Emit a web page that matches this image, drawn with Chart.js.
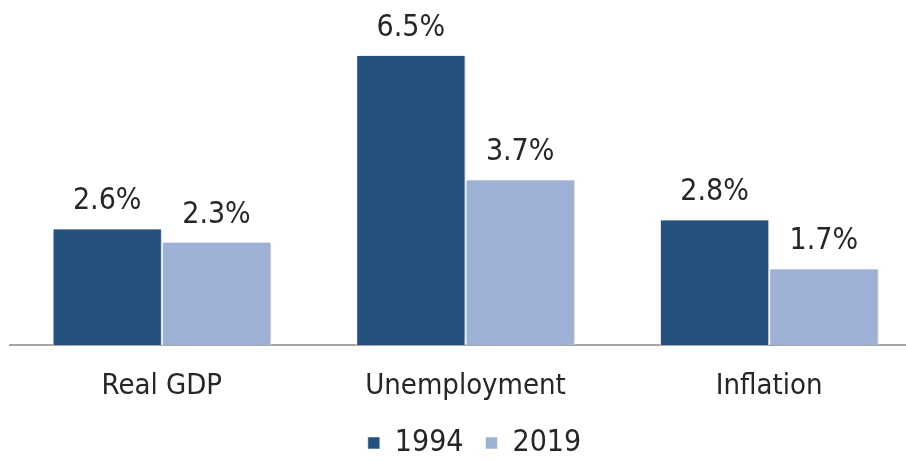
<!DOCTYPE html>
<html>
<head>
<meta charset="utf-8">
<script src="https://cdn.jsdelivr.net/npm/chart.js@4"></script>
<style>
  html, body { margin: 0; padding: 0; background: #fff; overflow: hidden; }
  #wrap { width: 906px; height: 462px; overflow: hidden; }
</style>
</head>
<body>
<div id="wrap"><canvas id="myChart" width="921" height="468"></canvas></div>
<script>
const categories = ["Real GDP", "Unemployment", "Inflation"];
const series1994 = [2.6, 6.5, 2.8];
const series2019 = [2.3, 3.7, 1.7];
const seriesNames = ["1994", "2019"];

const textColor = "#262626";
const fontFamily = "'DejaVu Sans Condensed', 'DejaVu Sans'";

// value labels above each bar
const barLabels = {
  id: "barLabels",
  afterDatasetsDraw(chart) {
    const ctx = chart.ctx;
    ctx.save();
    ctx.shadowColor = "transparent";
    ctx.font = "30px " + fontFamily;
    ctx.fillStyle = textColor;
    ctx.textAlign = "center";
    ctx.textBaseline = "alphabetic";
    chart.data.datasets.forEach((ds, i) => {
      chart.getDatasetMeta(i).data.forEach((bar, j) => {
        ctx.fillText(ds.data[j].toFixed(1) + "%", bar.x, bar.y - 20);
      });
    });
    ctx.restore();
  },
};

// soft shadow on the bars
const barShadow = {
  id: "barShadow",
  beforeDatasetsDraw(chart) {
    const ctx = chart.ctx;
    ctx.save();
    ctx.shadowColor = "rgba(0, 0, 0, 0.2)";
    ctx.shadowBlur = 4;
    ctx.shadowOffsetX = 3;
    ctx.shadowOffsetY = -1;
  },
  afterDatasetsDraw(chart) {
    chart.ctx.restore();
  },
};

// nudge the legend a little to the right, like the original
const legendShift = {
  id: "legendShift",
  afterLayout(chart) {
    chart.legend.left += 9;
    chart.legend.right += 9;
  },
};

const ctx = document.getElementById("myChart").getContext("2d");
new Chart(ctx, {
  type: "bar",
  data: {
    labels: categories,
    datasets: [
      {
        label: seriesNames[0],
        data: series1994,
        backgroundColor: "#25517F",
        borderColor: "#ffffff",
        borderWidth: { left: 1, right: 1, top: 0, bottom: 0 },
        borderSkipped: false,
      },
      {
        label: seriesNames[1],
        data: series2019,
        backgroundColor: "#9DB1D5",
        borderColor: "#ffffff",
        borderWidth: { left: 1, right: 1, top: 0, bottom: 0 },
        borderSkipped: false,
      },
    ],
  },
  options: {
    responsive: false,
    animation: false,
    layout: { padding: { left: 10, right: 0, top: 0, bottom: 0 } },
    categoryPercentage: 0.72,
    barPercentage: 1,
    plugins: {
      legend: {
        display: true,
        position: "bottom",
        labels: {
          font: { family: fontFamily, size: 30 },
          color: textColor,
          boxWidth: 12,
          boxHeight: 12,
          padding: 22,
        },
      },
      tooltip: { enabled: false },
    },
    scales: {
      y: {
        display: false,
        min: 0,
        max: 7.75,
      },
      x: {
        grid: { display: false, drawTicks: false },
        border: { display: true, color: "#a6a6a6", width: 2 },
        ticks: {
          font: { family: fontFamily, size: 29 },
          color: textColor,
          padding: 24,
        },
        afterFit(scale) {
          scale.height = 61;
        },
      },
    },
  },
  plugins: [barShadow, barLabels, legendShift],
});
</script>
</body>
</html>
